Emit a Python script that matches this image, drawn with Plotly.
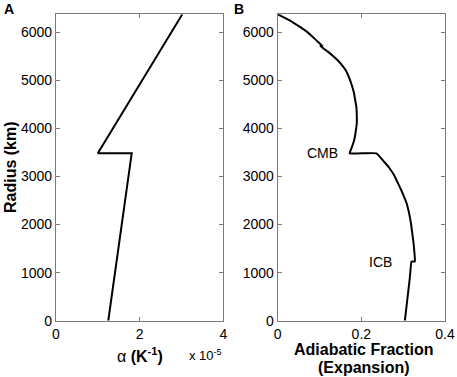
import plotly.graph_objects as go
from plotly.subplots import make_subplots

# Panel A: thermal expansivity (units of 1e-5 K^-1) vs radius (km)
radius_a = [6371, 3480, 3480, 0]
alpha_e5 = [3.02, 1.00, 1.81, 1.25]

# Panel B: adiabatic fraction (expansion) vs radius (km)
radius_b = [6371, 6300, 6200, 6100, 6000, 5900, 5800, 5711, 5711, 5600, 5500, 5400, 5300, 5200,
            5050, 4900, 4750, 4600, 4450, 4300, 4100, 3900, 3800, 3700, 3600, 3480,
            3480, 3300, 3175, 3000, 2850, 2723, 2600, 2446, 2200, 2000, 1800, 1600, 1400, 1231,
            1231, 900, 600, 300, 0]
adiabatic = [0.0, 0.016, 0.037, 0.055, 0.071, 0.084, 0.096, 0.107, 0.102, 0.119, 0.133, 0.145, 0.155, 0.163,
             0.171, 0.177, 0.182, 0.185, 0.188, 0.189, 0.189, 0.186, 0.184, 0.181, 0.177, 0.172,
             0.236, 0.255, 0.267, 0.280, 0.288, 0.295, 0.301, 0.308, 0.315, 0.319, 0.322, 0.325, 0.327, 0.328,
             0.320, 0.316, 0.312, 0.308, 0.304]

y_ticks = [0, 1000, 2000, 3000, 4000, 5000, 6000]
xa_ticks = [0, 2, 4]
xb_ticks = [0, 0.2, 0.4]
xb_ticklabels = ["0", "0.2", "0.4"]

FONT = "Liberation Sans, Arial, Helvetica, sans-serif"
GRAY = "#7a7a7a"

fig = make_subplots(rows=1, cols=2)
fig.add_trace(go.Scatter(x=alpha_e5, y=radius_a, mode="lines",
                         line=dict(color="black", width=2), showlegend=False), 1, 1)
fig.add_trace(go.Scatter(x=adiabatic, y=radius_b, mode="lines",
                         line=dict(color="black", width=2, shape="spline", smoothing=0.3),
                         showlegend=False), 1, 2)

axis_common = dict(showline=True, linecolor=GRAY, linewidth=1.2, mirror="ticks",
                   ticks="inside", ticklen=4, tickcolor=GRAY, showgrid=False, zeroline=False,
                   automargin=False,
                   tickfont=dict(family=FONT, size=14, color="black"))

fig.update_xaxes(domain=[56/457, 223.3/457], range=[0, 4], tickvals=xa_ticks,
                 ticktext=["0", "2", "4"], row=1, col=1, **axis_common)
fig.update_xaxes(domain=[277.7/457, 445/457], range=[0, 0.4], tickvals=xb_ticks,
                 ticktext=xb_ticklabels, row=1, col=2, **axis_common)
ydom = [(377-320.7)/377, (377-14.3)/377]
fig.update_yaxes(domain=ydom, range=[0, 6371], tickvals=y_ticks, row=1, col=1, **axis_common)
fig.update_yaxes(domain=ydom, range=[0, 6371], tickvals=y_ticks, row=1, col=2, **axis_common)

ann = [
    dict(text="<b>A</b>", x=9/457, y=1-9/377, size=14),
    dict(text="<b>B</b>", x=239/457, y=1-9/377, size=14),
    dict(text="<b>Radius (km)</b>", x=10/457, y=1-167/377, size=16, angle=-90),
    dict(text="α <b>(K<sup>-1</sup>)</b>", x=140/457, y=1-355/377, size=16),
    dict(text="x 10<sup>-5</sup>", x=205/457, y=1-355/377, size=13),
    dict(text="<b>Adiabatic Fraction</b>", x=364/457, y=1-349/377, size=16),
    dict(text="<b>(Expansion)</b>", x=364/457, y=1-367/377, size=16),
]
for a in ann:
    fig.add_annotation(text=a["text"], x=a["x"], y=a["y"], xref="paper", yref="paper",
                       showarrow=False, textangle=a.get("angle", 0),
                       font=dict(family=FONT, size=a["size"], color="black"),
                       xanchor="center", yanchor="middle")

fig.add_annotation(text="CMB", x=0.108, y=3480, xref="x2", yref="y2", showarrow=False,
                   font=dict(family=FONT, size=14, color="black"))
fig.add_annotation(text="ICB", x=0.245, y=1223, xref="x2", yref="y2", showarrow=False,
                   font=dict(family=FONT, size=14, color="black"))

fig.update_layout(width=457, height=377, margin=dict(l=0, r=0, t=0, b=0),
                  paper_bgcolor="white", plot_bgcolor="white",
                  font=dict(family=FONT, color="black"))

fig.write_html("out.html", config={"displayModeBar": False},
               post_script="document.body.style.margin='0';document.body.style.overflow='hidden';")
